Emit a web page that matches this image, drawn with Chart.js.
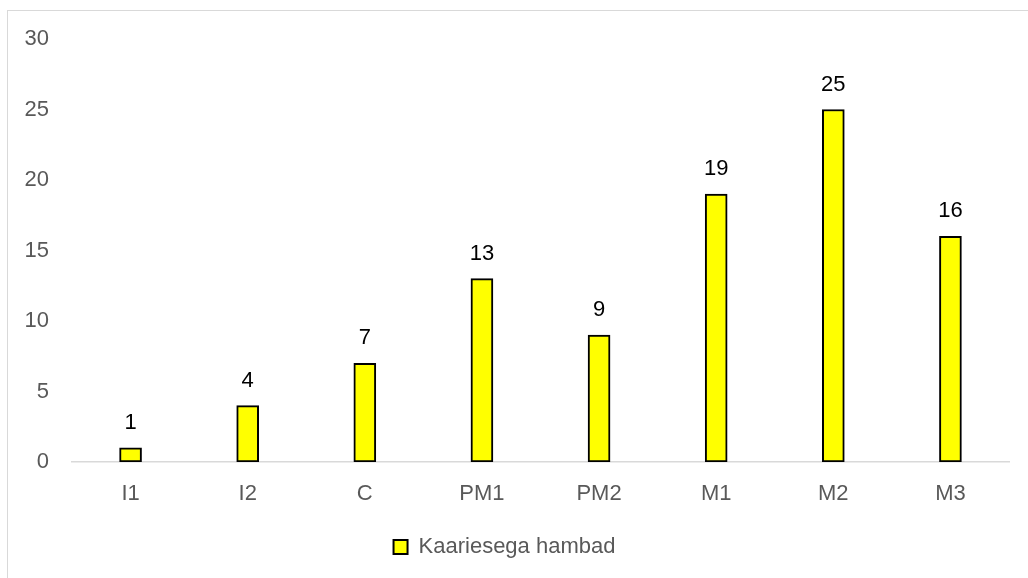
<!DOCTYPE html>
<html>
<head>
<meta charset="utf-8">
<script src="https://cdn.jsdelivr.net/npm/chart.js@4.4.1/dist/chart.umd.min.js"></script>
<style>
  html, body { margin: 0; padding: 0; background: #ffffff; overflow: hidden; }
  #wrap { position: relative; width: 1028px; height: 578px; }
  #frame { position: absolute; left: 7px; top: 10px; width: 1040px; height: 600px;
           border-left: 1px solid #d9d9d9; border-top: 1px solid #d9d9d9; box-sizing: border-box; }
  canvas { position: absolute; left: 0; top: 0; }
</style>
</head>
<body>
<div id="wrap">
  <div id="frame"></div>
  <canvas id="chart" width="1028" height="578"></canvas>
</div>
<script>
// Tooth positions and counts of carious teeth
const categories = ['I1', 'I2', 'C', 'PM1', 'PM2', 'M1', 'M2', 'M3'];
const cariousTeeth = [1, 4, 7, 13, 9, 19, 25, 16];
const seriesName = 'Kaariesega hambad';
const yTicks = [0, 5, 10, 15, 20, 25, 30];

const FONT = "'Liberation Sans', Arial, sans-serif";
const GREY = '#595959';
const SIZE = 22;

// Writes each bar's value above it
const valueLabels = {
  id: 'valueLabels',
  afterDatasetsDraw(chart) {
    const ctx = chart.ctx;
    const meta = chart.getDatasetMeta(0);
    const values = chart.data.datasets[0].data;
    ctx.save();
    ctx.font = SIZE + 'px ' + FONT;
    ctx.fillStyle = '#000000';
    ctx.textAlign = 'center';
    ctx.textBaseline = 'middle';
    meta.data.forEach((bar, i) => {
      ctx.fillText(String(values[i]), bar.x, bar.y - 25);
    });
    ctx.restore();
  }
};

new Chart(document.getElementById('chart'), {
  type: 'bar',
  data: {
    labels: categories,
    datasets: [{
      label: seriesName,
      data: cariousTeeth,
      backgroundColor: '#ffff00',
      borderColor: '#000000',
      borderWidth: 2,
      borderSkipped: false,
      barThickness: 22
    }]
  },
  options: {
    responsive: false,
    animation: false,
    layout: { padding: { top: 39, left: 0, right: 19, bottom: 10 } },
    plugins: {
      legend: {
        position: 'bottom',
        labels: {
          font: { family: FONT, size: SIZE },
          color: GREY,
          boxWidth: 14,
          boxHeight: 14,
          padding: 10,
          generateLabels(chart) {
            const ds = chart.data.datasets[0];
            return [{
              text: ds.label,
              fillStyle: ds.backgroundColor,
              strokeStyle: '#000000',
              lineWidth: 2,
              fontColor: GREY,
              datasetIndex: 0
            }];
          }
        }
      },
      tooltip: { enabled: false }
    },
    scales: {
      x: {
        grid: { display: false, drawTicks: false },
        border: { display: true, color: '#d9d9d9', width: 1.5 },
        ticks: { font: { family: FONT, size: SIZE }, color: GREY, padding: 19 },
        afterFit(scale) { scale.height = 64; }
      },
      y: {
        min: 0,
        max: 30,
        afterBuildTicks(scale) { scale.ticks = yTicks.map(v => ({ value: v })); },
        grid: { display: false, drawTicks: false },
        border: { display: false },
        ticks: { font: { family: FONT, size: SIZE }, color: GREY, padding: 23 },
        afterFit(scale) { scale.width = 72; }
      }
    }
  },
  plugins: [valueLabels]
});
</script>
</body>
</html>
